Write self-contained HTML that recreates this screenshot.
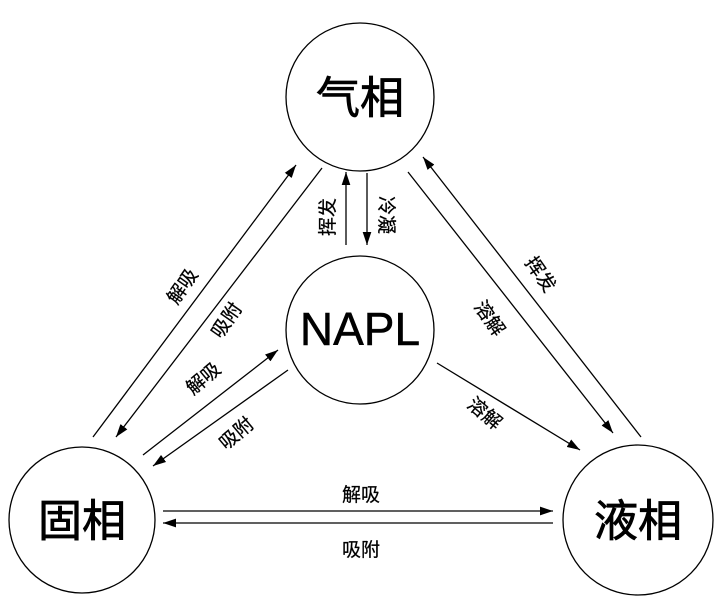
<!DOCTYPE html>
<html><head><meta charset="utf-8"><style>
html,body{margin:0;padding:0;background:#fff;}
svg{display:block;}
text{font-family:"Liberation Sans","Noto Sans CJK SC",sans-serif;fill:#000;}
</style></head><body>
<svg width="722" height="606" viewBox="0 0 722 606" xmlns="http://www.w3.org/2000/svg">
<defs>
<marker id="a" viewBox="0 0 12 8" refX="12" refY="4" markerWidth="13" markerHeight="9" orient="auto" markerUnits="userSpaceOnUse">
<path d="M0,0 L12,4 L0,8 z" fill="#000"/></marker>
</defs>
<g fill="none" stroke="#000" stroke-width="1.3">
<circle cx="360" cy="97" r="74"/>
<circle cx="360" cy="330" r="74"/>
<circle cx="82" cy="520" r="73"/>
<circle cx="638" cy="520" r="75"/>
</g>
<g stroke="#000" stroke-width="1.3" marker-end="url(#a)">
<line x1="93" y1="437" x2="296" y2="165"/>
<line x1="322" y1="168" x2="116" y2="437"/>
<line x1="346" y1="245" x2="346" y2="172"/>
<line x1="367" y1="173" x2="367" y2="245"/>
<line x1="143" y1="455" x2="278" y2="350"/>
<line x1="288" y1="370" x2="153" y2="466"/>
<line x1="437" y1="363" x2="580" y2="450"/>
<line x1="408" y1="172" x2="613" y2="433"/>
<line x1="641" y1="437" x2="423" y2="157"/>
<line x1="163" y1="511" x2="553" y2="511"/>
<line x1="553" y1="523" x2="163" y2="523"/>
</g>
<g font-size="44" text-anchor="middle" stroke="#000" stroke-width="0.8">
<text x="360" y="113">气相</text>
<text x="360" y="345" font-size="46" stroke-width="0.5">NAPL</text>
<text x="82" y="536">固相</text>
<text x="638" y="536">液相</text>
</g>
<g font-size="19" text-anchor="middle" stroke="#000" stroke-width="0.25">
<text transform="translate(327,217) rotate(-90)" y="7">挥发</text>
<text transform="translate(387,215) rotate(90)" y="7">冷凝</text>
<text transform="translate(182,286) rotate(-55)" y="7">解吸</text>
<text transform="translate(226,320) rotate(-55)" y="7">吸附</text>
<text transform="translate(203,378) rotate(-40)" y="7">解吸</text>
<text transform="translate(236,433) rotate(-40)" y="7">吸附</text>
<text transform="translate(485,413) rotate(40)" y="7">溶解</text>
<text transform="translate(490,318) rotate(55)" y="7">溶解</text>
<text transform="translate(541,274) rotate(55)" y="7">挥发</text>
<text x="361" y="501">解吸</text>
<text x="361" y="556">吸附</text>
</g>
</svg>
</body></html>
